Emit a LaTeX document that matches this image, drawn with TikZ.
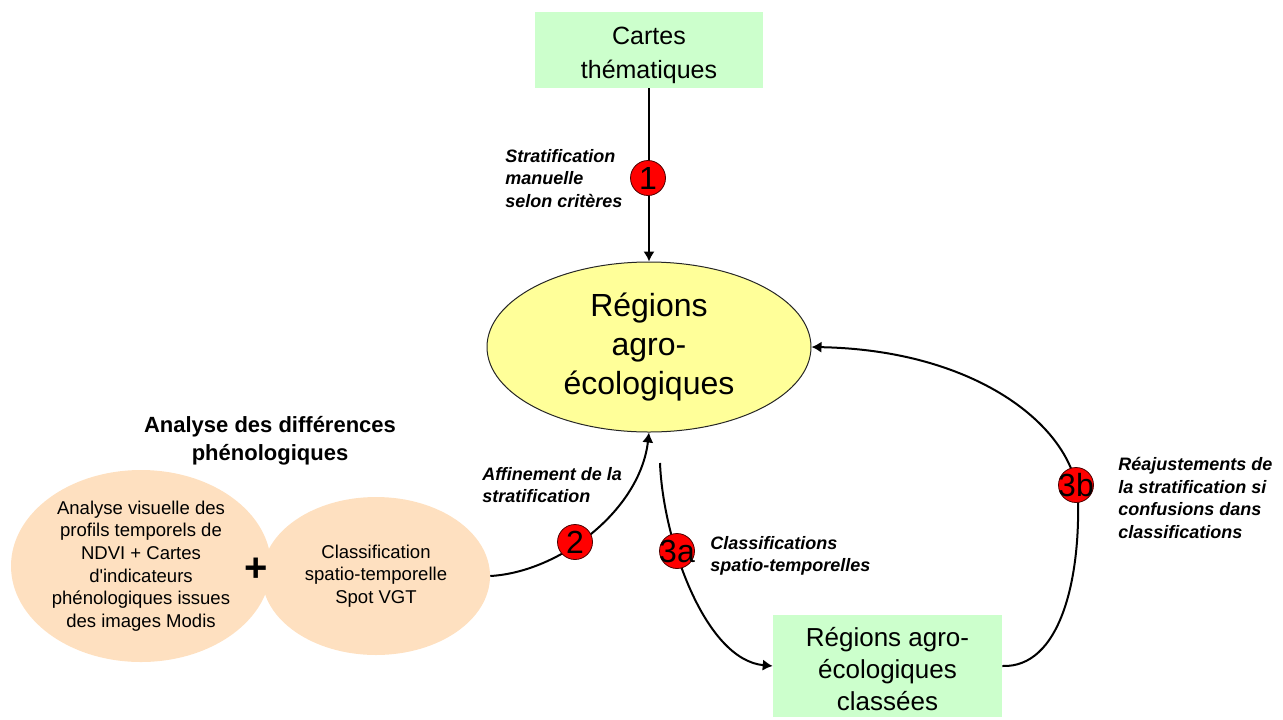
\documentclass[tikz,border=0pt]{standalone}
\usepackage{fontspec}
\setmainfont{Liberation Sans}
\usetikzlibrary{arrows.meta,shapes.geometric}
\definecolor{boxgreen}{RGB}{204,255,204}
\definecolor{ellyellow}{RGB}{255,255,153}
\definecolor{peach}{RGB}{254,224,192}
\begin{document}
\begin{tikzpicture}[x=0.75pt,y=-0.75pt,
  conn/.style={line width=1.5pt, -{Latex[length=7.5pt,width=8.5pt]}},
  greenbox/.style={rectangle, fill=boxgreen, inner sep=0pt, align=center},
  peachell/.style={ellipse, fill=peach, inner sep=0pt, align=center, font=\fontsize{13.9}{17}\selectfont},
  numdot/.style={circle, fill=red, draw=black!70!red, line width=0.6pt, minimum size=26.25pt, inner sep=0pt, font=\fontsize{24}{24}\selectfont},
  lbl/.style={anchor=north west, inner sep=0pt, align=left, font=\fontsize{13.5}{16.9}\selectfont\bfseries\itshape},
]
\path[use as bounding box] (0,0) rectangle (1283,719);

% peach ellipses
\node[peachell, minimum width=195pt, minimum height=144pt] (pl) at (141,566)
  {Analyse visuelle des\\profils temporels de\\NDVI + Cartes\\d\textquotesingle indicateurs\\phénologiques issues\\des images Modis};
\node[peachell, minimum width=171pt, minimum height=118.5pt] (pr) at (376,576)
  {Classification\\spatio-temporelle\\Spot VGT};
\node[font=\fontsize{30}{30}\selectfont\bfseries, inner sep=0pt] (plus) at (256,570) {+};
\node[anchor=north, inner sep=0pt, align=center, font=\fontsize{16.5}{21}\selectfont\bfseries] (ttl) at (270,416)
  {Analyse des différences\\phénologiques};

% boxes
\node[greenbox, minimum width=171pt, minimum height=57pt, font=\fontsize{18.75}{25.5}\selectfont] (top) at (649,50)
  {\rule{0pt}{21pt}Cartes\\thématiques};
\node[ellipse, fill=ellyellow, draw=black!85, line width=0.75pt, minimum width=243pt, minimum height=127.5pt,
  inner sep=0pt, align=center, font=\fontsize{24}{29.6}\selectfont] (reg) at (649,347)
  {Régions\\agro-\\écologiques};
\node[greenbox, minimum width=171.75pt, minimum height=76.5pt, font=\fontsize{19.5}{24}\selectfont] (bb) at (887.5,666)
  {\rule{0pt}{19pt}Régions agro-\\écologiques\\classées};

% connectors
\draw[conn] (top.south) -- (reg.north);
\draw[conn] (pr.east) .. controls (560,572) and (640,510) .. (reg.south);
\coordinate (s3a) at (660,463);
\draw[conn] (s3a) .. controls (663,540) and (705,660) .. (bb.west);
\draw[conn] (bb.east) .. controls (1060,668) and (1080,580) .. (1078,500)
  .. controls (1076,430) and (980,350) .. (reg.east);

% numbered dots
\node[numdot] (n1) at (648,178) {\makebox[0pt]{1}};
\node[numdot] (n2) at (575,542) {\makebox[0pt]{2}};
\node[numdot] (n3a) at (677,551) {\makebox[0pt]{3a}};
\node[numdot] (n3b) at (1076,485) {\makebox[0pt]{3b}};

% labels
\node[lbl] (l1) at (505,149) {Stratification\\manuelle\\selon critères};
\node[lbl] (l2) at (482,467) {Affinement de la\\stratification};
\node[lbl] (l3a) at (710,536) {Classifications\\spatio-temporelles};
\node[lbl] (l3b) at (1118,457) {Réajustements de\\la stratification si\\confusions dans\\classifications};
\end{tikzpicture}
\end{document}
